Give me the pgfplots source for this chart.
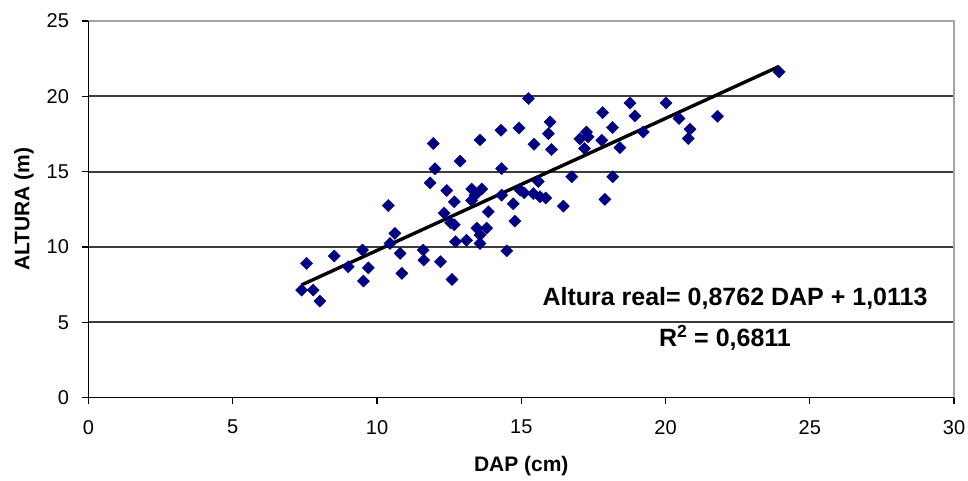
\documentclass[border=0pt]{standalone}
\usepackage{fontspec}
\setmainfont{Liberation Sans}
\usepackage{pgfplots}
\pgfplotsset{compat=1.18}
\definecolor{marknavy}{RGB}{0,0,128}
\definecolor{gridgray}{RGB}{60,60,60}
\definecolor{framegray}{RGB}{165,165,165}

\begin{document}
\begin{tikzpicture}
\begin{axis}[
  name=ax,
  scale only axis, width=865.5pt, height=376.7pt,
  xmin=0, xmax=30, ymin=0, ymax=25,
  xtick={0,5,...,30}, ytick={0,5,...,25},
  axis line style={draw=none},
  tick pos=left, tick align=outside, major tick length=6pt,
  tick style={black, line width=1.2pt},
  ticklabel style={font=\fontsize{20}{24}\selectfont},
  xticklabel style={yshift=-13pt},
  yticklabel style={xshift=-10pt},
  /pgf/number format/assume math mode=true,
  xlabel={\bfseries DAP (cm)},
  ylabel={\bfseries ALTURA (m)},
  label style={font=\fontsize{21}{25}\selectfont},
  xlabel style={at={(rel axis cs:0.5,0)}, anchor=center, yshift=-68pt},
  ylabel style={at={(rel axis cs:0,0.5)}, anchor=center, yshift=64.5pt},
  clip=false,
]
% horizontal grid
\draw[gridgray, line width=1.8pt] (axis cs:0,5) -- (axis cs:30,5);
\draw[gridgray, line width=1.8pt] (axis cs:0,10) -- (axis cs:30,10);
\draw[gridgray, line width=1.8pt] (axis cs:0,15) -- (axis cs:30,15);
\draw[gridgray, line width=1.8pt] (axis cs:0,20) -- (axis cs:30,20);
% frame
\draw[framegray, line width=1.5pt] (rel axis cs:0,1) -- (rel axis cs:1,1) -- (rel axis cs:1,0);
\draw[black, line width=1.6pt] (rel axis cs:0,1) -- (rel axis cs:0,0) -- (rel axis cs:1,0);

% DAP (cm) vs ALTURA (m)
\addplot[only marks, mark=square*, mark size=4.3pt,
  mark options={rotate=45, fill=marknavy, draw=marknavy}] table {
x y
7.39 7.14
7.56 8.91
7.79 7.14
8.02 6.41
8.52 9.40
9.00 8.69
9.50 9.80
9.70 8.62
9.53 7.74
10.39 12.75
10.62 10.90
10.45 10.24
10.80 9.58
10.86 8.25
11.60 9.80
11.62 9.13
12.20 9.02
12.60 7.85
11.84 14.26
11.95 16.87
12.01 15.20
12.88 15.70
12.42 13.75
12.68 13.00
12.33 12.25
12.55 11.60
12.68 11.48
12.72 10.35
13.10 10.45
13.28 13.85
13.40 13.44
13.28 13.10
13.63 13.85
13.57 17.11
13.86 12.34
13.46 11.25
13.80 11.25
13.57 10.79
13.57 10.24
14.50 9.75
14.30 17.75
14.32 15.20
14.32 13.44
14.72 12.87
14.78 11.72
14.92 17.90
14.96 13.77
15.10 13.60
15.25 19.85
15.42 13.55
15.44 16.82
15.59 14.35
15.65 13.33
15.85 13.25
15.94 17.53
16.00 18.30
16.05 16.47
16.46 12.71
16.75 14.66
17.03 17.18
17.26 17.63
17.32 17.31
17.19 16.54
17.79 17.09
17.82 18.92
17.90 13.16
18.17 14.66
18.16 17.93
18.42 16.60
18.77 19.56
18.94 18.70
19.23 17.63
20.02 19.56
20.47 18.53
20.85 17.82
20.79 17.20
21.80 18.68
23.94 21.62
};

% linear trend: 0,8762 DAP + 1,0113
\addplot[black, line width=3.4pt] coordinates {(7.39,7.487) (23.94,21.988)};

\node[font=\bfseries\fontsize{25}{30}\selectfont, anchor=center]
  at (axis cs:22.41,6.61) {Altura real= 0,8762 DAP + 1,0113};
\node[font=\bfseries\fontsize{25}{30}\selectfont, anchor=center]
  at (axis cs:22.06,3.96) {R\textsuperscript{2} = 0,6811};
\end{axis}
\pgfresetboundingbox
\path[use as bounding box] ([xshift=-88.5pt,yshift=-83.3pt]ax.south west)
  rectangle ([xshift=14pt,yshift=21pt]ax.north east);
\end{tikzpicture}
\end{document}
